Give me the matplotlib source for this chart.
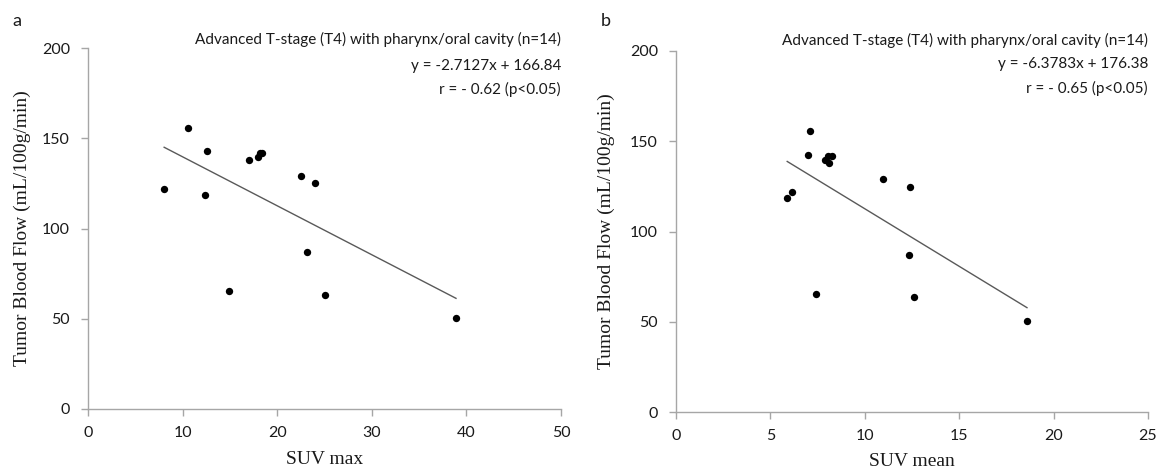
import matplotlib
matplotlib.use("Agg")
import matplotlib.pyplot as plt
import numpy as np

# ---- data ----
suv_max = [8.05, 10.55, 12.63, 12.39, 17.0, 18.0, 18.2, 18.4, 22.5, 23.96, 23.14, 14.86, 25.06, 38.9]
tbf_a = [121.9, 155.9, 143.0, 118.6, 137.9, 139.8, 141.8, 141.6, 129.0, 125.4, 87.2, 65.5, 63.3, 50.2]

suv_mean = [5.89, 6.13, 7.01, 7.09, 7.88, 8.12, 8.04, 8.26, 10.99, 12.4, 12.34, 7.44, 12.6, 18.59]
tbf_b = [118.6, 121.9, 142.6, 155.5, 139.7, 137.7, 141.9, 141.9, 129.0, 124.8, 87.2, 65.6, 63.6, 50.2]

fit_a = [-2.7127, 166.84]
fit_b = [-6.3783, 176.38]

title_text = "Advanced T-stage (T4) with pharynx/oral cavity (n=14)"
eq_a = "y = -2.7127x + 166.84"
eq_b = "y = -6.3783x + 176.38"
r_a = "r = - 0.62 (p<0.05)"
r_b = "r = - 0.65 (p<0.05)"

xticks_a = [0, 10, 20, 30, 40, 50]
xticks_b = [0, 5, 10, 15, 20, 25]
yticks = [0, 50, 100, 150, 200]

W, H = 1169, 472
fig = plt.figure(figsize=(W / 100, H / 100), dpi=100)

SANS = ["Lato", "DejaVu Sans"]
SERIF = ["Liberation Serif", "DejaVu Serif"]
GRAY = "#A6A6A6"


def make_axes(rect_px, x, y, fit, xticks, xlabel, eq, rtxt, label, label_pos, tpos,
              ylab_x_px, xlab_y_px):
    l, t, r, b = rect_px
    ax = fig.add_axes([l / W, 1 - b / H, (r - l) / W, (b - t) / H])
    ax.scatter(x, y, s=28, color="black", zorder=3, linewidths=0)
    xs = np.array([min(x), max(x)])
    ax.plot(xs, fit[0] * xs + fit[1], color="#595959", lw=1.0, zorder=2)
    ax.set_xlim(xticks[0], xticks[-1])
    ax.set_ylim(0, 200)
    ax.set_xticks(xticks)
    ax.set_yticks(yticks)
    for s in ["top", "right"]:
        ax.spines[s].set_visible(False)
    for s in ["left", "bottom"]:
        ax.spines[s].set_color(GRAY)
        ax.spines[s].set_linewidth(1.0)
    ax.tick_params(axis="both", direction="out", length=5, width=1.0, color=GRAY,
                   labelsize=11.5, labelcolor="#1a1a1a")
    ax.tick_params(axis="x", pad=7)
    ax.tick_params(axis="y", pad=8)
    for lab in ax.get_xticklabels() + ax.get_yticklabels():
        lab.set_family(SANS)
    ax.set_xlabel(xlabel, family=SERIF, fontsize=14, color="#1a1a1a")
    ax.set_ylabel("Tumor Blood Flow (mL/100g/min)", family=SERIF, fontsize=14,
                  color="#1a1a1a")
    ax.xaxis.label.set_va("center")
    ax.yaxis.label.set_va("center")
    ax.xaxis.set_label_coords(0.5, (b - xlab_y_px) / (b - t))
    ax.yaxis.set_label_coords((ylab_x_px - l) / (r - l), 0.5)
    ax.text(1.0, tpos[0], title_text, transform=ax.transAxes, ha="right", va="center",
            family=SANS, fontsize=11, color="#1a1a1a")
    ax.text(1.0, tpos[1], eq, transform=ax.transAxes, ha="right", va="center",
            family=SANS, fontsize=11, color="#1a1a1a")
    ax.text(1.0, tpos[2], rtxt, transform=ax.transAxes, ha="right", va="center",
            family=SANS, fontsize=11, color="#1a1a1a")
    fig.text(label_pos[0] / W, 1 - label_pos[1] / H, label, family=SANS, fontsize=13,
             ha="left", va="center", color="#1a1a1a")
    return ax


make_axes((88, 48, 561, 409), suv_max, tbf_a, fit_a, xticks_a, "SUV max", eq_a, r_a,
          "a", (12, 21), (1.025, 0.950, 0.886), 22, 460)
make_axes((676, 51, 1148, 412), suv_mean, tbf_b, fit_b, xticks_b, "SUV mean", eq_b, r_b,
          "b", (601, 21), (1.030, 0.964, 0.895), 606, 462)

fig.savefig("out.png", dpi=100, facecolor="white")
